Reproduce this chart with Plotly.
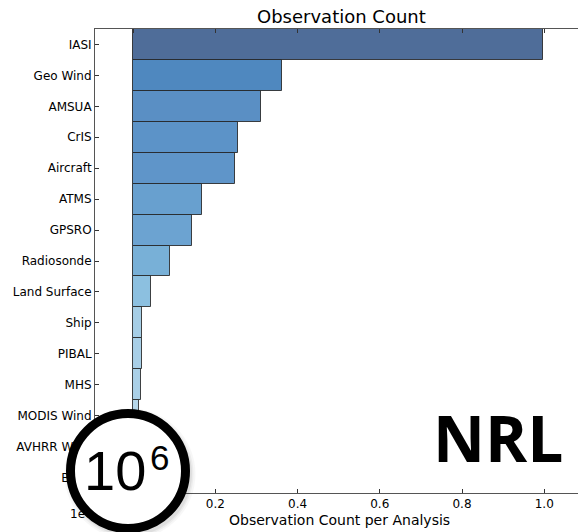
import plotly.graph_objects as go

# Observation sources, ordered top to bottom
categories = ["IASI", "Geo Wind", "AMSUA", "CrIS", "Aircraft", "ATMS", "GPSRO",
              "Radiosonde", "Land Surface", "Ship", "PIBAL", "MHS",
              "MODIS Wind", "AVHRR Wind", "Buoy"]
# Observation count per analysis (units of 1e6)
counts = [0.996, 0.361, 0.311, 0.256, 0.249, 0.168, 0.1435,
          0.091, 0.0448, 0.0219, 0.0215, 0.0204,
          0.0139, 0.009, 0.006]
bar_colors = ["#4f6d99", "#4f88bf", "#5a8fc4", "#5c93c8", "#5f95c9", "#68a0cf",
              "#6ca3d1", "#78b0d7", "#8cc0e0", "#a6cee6", "#a8cfe7", "#aad0e7",
              "#b6d7ea", "#bcdaeb", "#c0dcec"]
x_ticks = [0.0, 0.2, 0.4, 0.6, 0.8, 1.0]
x_tick_labels = ["0.0", "0.2", "0.4", "0.6", "0.8", "1.0"]

W, H = 578, 532
# plot box edges in page pixels
PL, PR, PT, PB = 95, 578, 29, 493
FONT = "DejaVu Sans"


def pos(px, py):
    """Pixel position (from page top-left) as a paper anchor plus shifts."""
    return dict(xref="paper", yref="paper", x=0, y=0, xshift=px, yshift=H - py)


fig = go.Figure()
fig.add_trace(go.Bar(
    x=counts, y=categories, orientation="h",
    marker=dict(color=bar_colors, line=dict(color="rgba(35,35,35,0.85)", width=1)),
    showlegend=False, hoverinfo="skip",
))

# exponent label of the x axis (partly covered by the badge), placed on a
# full-page pixel subplot
fig.add_trace(go.Scatter(
    x=[70], y=[515], mode="text", text=["1e6"], textposition="middle right",
    textfont=dict(family=FONT, size=12, color="black"),
    xaxis="x2", yaxis="y2", cliponaxis=False, showlegend=False, hoverinfo="skip",
))

fig.update_layout(
    width=W, height=H,
    margin=dict(l=0, r=0, t=0, b=0, pad=0),
    paper_bgcolor="white", plot_bgcolor="rgba(0,0,0,0)",
    bargap=0,
    font=dict(family=FONT, size=12, color="black"),
    xaxis=dict(
        domain=[PL / W, PR / W], anchor="y",
        range=[-0.0925, 1.082], tickvals=x_ticks, ticktext=x_tick_labels,
        ticks="inside", ticklen=4, tickwidth=1, tickcolor="#333",
        showline=True, linecolor="#555", linewidth=1, mirror="ticks",
        showgrid=False, zeroline=False,
        tickfont=dict(family=FONT, size=12, color="black"),
    ),
    yaxis=dict(
        domain=[1 - PB / H, 1 - PT / H], anchor="x",
        type="category", categoryorder="array", categoryarray=categories,
        range=[len(categories) - 0.5, -0.5],
        ticks="inside", ticklen=4, tickwidth=1, tickcolor="#333",
        showline=True, linecolor="#555", linewidth=1,
        showgrid=False, zeroline=False,
        tickfont=dict(family=FONT, size=12, color="black"),
    ),
    xaxis2=dict(domain=[0, 1], anchor="y2", range=[0, W], visible=False, fixedrange=True),
    yaxis2=dict(domain=[0, 1], anchor="x2", range=[H, 0], visible=False, fixedrange=True),
)

# titles
fig.add_annotation(text="Observation Count", showarrow=False,
                   font=dict(family=FONT, size=18, color="black"),
                   xanchor="center", yanchor="middle", **pos(341, 16))
fig.add_annotation(text="Observation Count per Analysis", showarrow=False,
                   font=dict(family=FONT, size=14, color="black"),
                   xanchor="center", yanchor="middle", **pos(339, 520))

# "10^6" badge with a soft shadow
cx, cy, rad = 128, 471, 57.5
ax_x = cx / W
ax_y = (H - cy) / H
for grow, alpha in [(8, 0.03), (6, 0.045), (4.5, 0.06)]:
    fig.add_shape(type="circle", layer="above",
                  xref="paper", yref="paper", xsizemode="pixel", ysizemode="pixel",
                  xanchor=ax_x, yanchor=ax_y,
                  x0=-rad - grow + 2, x1=rad + grow + 2,
                  y0=-rad - grow - 3, y1=rad + grow - 3,
                  fillcolor=f"rgba(0,0,0,{alpha})", line=dict(width=0))
fig.add_shape(type="circle", layer="above",
              xref="paper", yref="paper", xsizemode="pixel", ysizemode="pixel",
              xanchor=ax_x, yanchor=ax_y,
              x0=-rad, x1=rad, y0=-rad, y1=rad,
              fillcolor="white", line=dict(color="black", width=9))
fig.add_annotation(text="10", showarrow=False,
                   font=dict(family="Liberation Sans", size=56, color="black"),
                   xanchor="center", yanchor="middle", **pos(115, 470))
fig.add_annotation(text="6", showarrow=False,
                   font=dict(family="Liberation Sans", size=35, color="black"),
                   xanchor="center", yanchor="middle", **pos(159, 457))

# lab mark
fig.add_annotation(text="<b>NRL</b>", showarrow=False,
                   font=dict(family="Open Sans", size=64, color="black"),
                   xanchor="center", yanchor="middle", **pos(498, 437))

fig.write_html("out.html")
